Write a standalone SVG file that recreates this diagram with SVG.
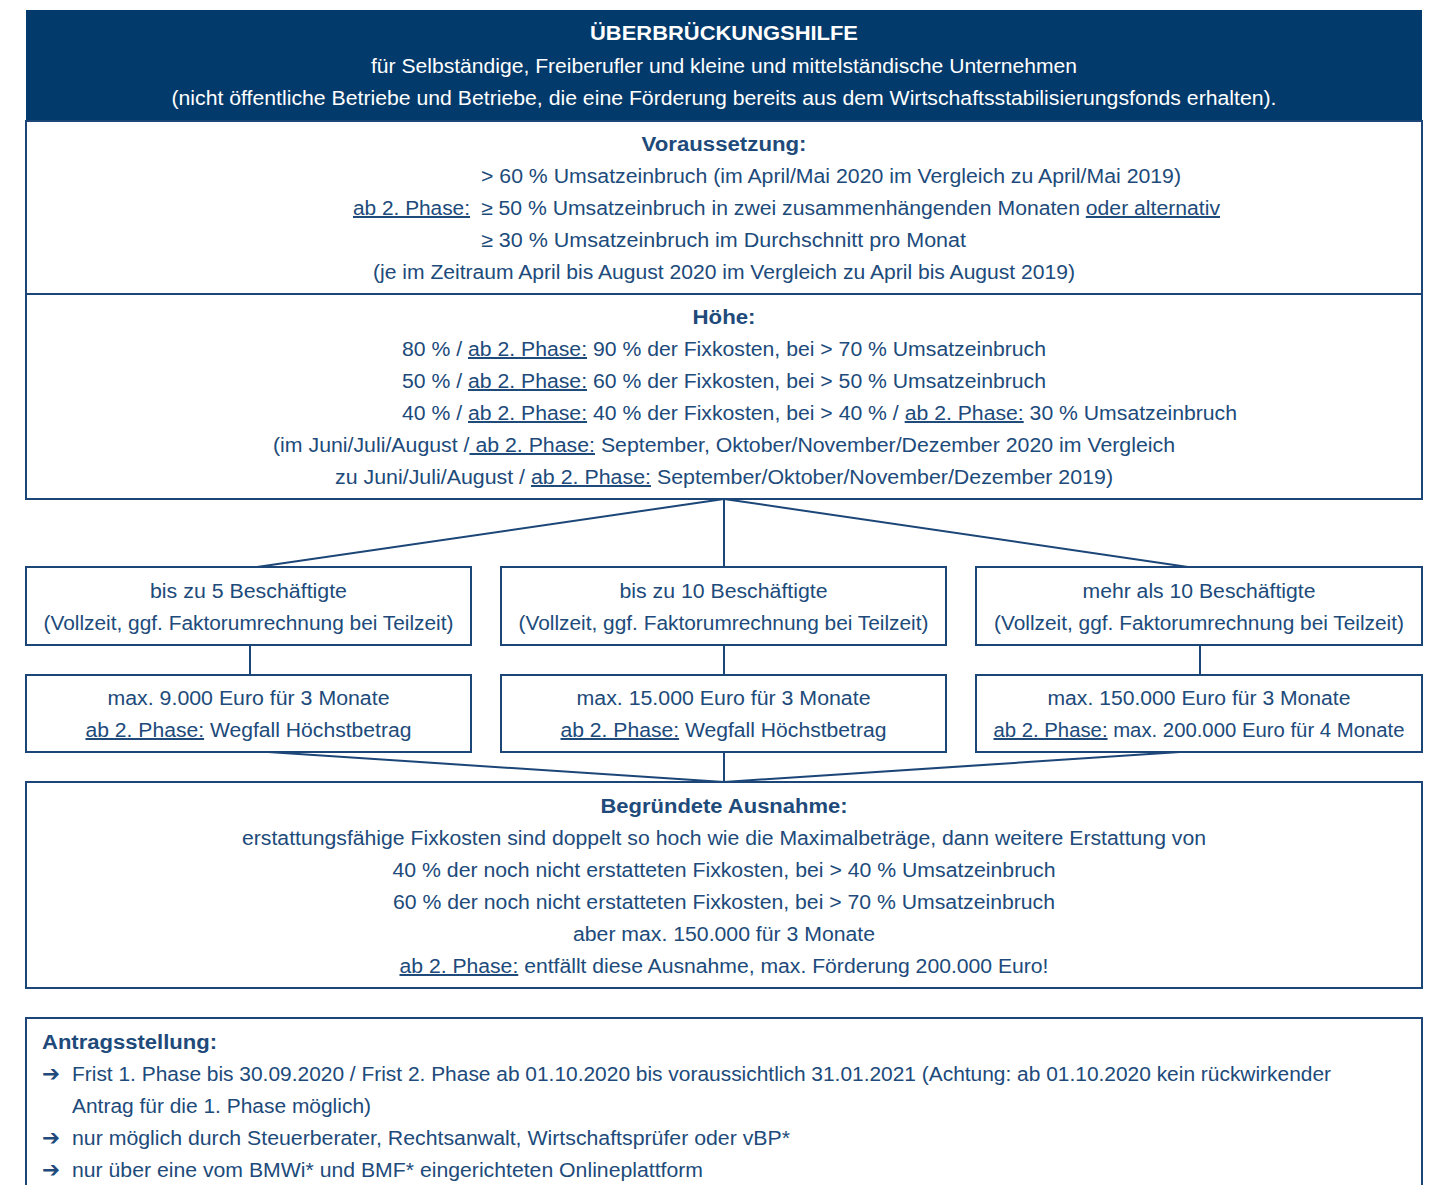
<svg xmlns="http://www.w3.org/2000/svg" width="1430" height="1185" viewBox="0 0 1430 1185">
<style>
text{font-family:"Liberation Sans",Arial,sans-serif;font-size:20px;fill:#204a7a;}
.b{font-weight:bold;}
.w{fill:#ffffff;}
.c{text-anchor:middle;}
.u{text-decoration:underline;}
.box{fill:#ffffff;stroke:#1b4677;stroke-width:2;}
.ln{stroke:#1b4677;stroke-width:2;fill:none;}
.ar{font-family:"DejaVu Sans",sans-serif;font-size:22px;}
</style>
<rect width="1430" height="1185" fill="#ffffff"/>

<g id="header">
<rect x="26" y="10" width="1396" height="111" fill="#033a6c"/>
<text class="b w c" x="724" y="40" textLength="268" lengthAdjust="spacingAndGlyphs">ÜBERBRÜCKUNGSHILFE</text>
<text class="w c" x="724" y="73" textLength="706" lengthAdjust="spacingAndGlyphs">für Selbständige, Freiberufler und kleine und mittelständische Unternehmen</text>
<text class="w c" x="724" y="105" textLength="1105" lengthAdjust="spacingAndGlyphs">(nicht öffentliche Betriebe und Betriebe, die eine  Förderung bereits aus dem Wirtschaftsstabilisierungsfonds erhalten).</text>
</g>

<g id="voraussetzung">
<rect class="box" x="26" y="121" width="1396" height="173"/>
<text class="b c" x="724" y="151" textLength="165" lengthAdjust="spacingAndGlyphs">Voraussetzung:</text>
<text x="481" y="183" textLength="700" lengthAdjust="spacingAndGlyphs">&gt; 60 % Umsatzeinbruch (im April/Mai 2020 im Vergleich zu April/Mai 2019)</text>
<text class="u" x="353" y="215" textLength="117" lengthAdjust="spacingAndGlyphs">ab 2. Phase:</text>
<text x="481" y="215" textLength="739" lengthAdjust="spacingAndGlyphs">≥ 50 % Umsatzeinbruch in zwei zusammenhängenden Monaten <tspan class="u">oder alternativ</tspan></text>
<text x="481" y="247" textLength="485" lengthAdjust="spacingAndGlyphs">≥ 30 % Umsatzeinbruch im Durchschnitt pro Monat</text>
<text class="c" x="724" y="279" textLength="702" lengthAdjust="spacingAndGlyphs">(je im Zeitraum April bis August 2020 im Vergleich zu April bis August 2019)</text>
</g>

<g id="hoehe">
<rect class="box" x="26" y="294" width="1396" height="205"/>
<text class="b c" x="724" y="324" textLength="63" lengthAdjust="spacingAndGlyphs">Höhe:</text>
<text x="402" y="356" textLength="644" lengthAdjust="spacingAndGlyphs">80 % / <tspan class="u">ab 2. Phase:</tspan> 90 % der Fixkosten, bei &gt; 70 % Umsatzeinbruch</text>
<text x="402" y="388" textLength="644" lengthAdjust="spacingAndGlyphs">50 % / <tspan class="u">ab 2. Phase:</tspan> 60 % der Fixkosten, bei &gt; 50 % Umsatzeinbruch</text>
<text x="402" y="420" textLength="835" lengthAdjust="spacingAndGlyphs">40 % / <tspan class="u">ab 2. Phase:</tspan> 40 % der Fixkosten, bei &gt; 40 % / <tspan class="u">ab 2. Phase:</tspan> 30 % Umsatzeinbruch</text>
<text x="273" y="452" textLength="902" lengthAdjust="spacingAndGlyphs">(im Juni/Juli/August /<tspan class="u"> ab 2. Phase:</tspan> September, Oktober/November/Dezember 2020 im Vergleich</text>
<text x="335" y="484" textLength="778" lengthAdjust="spacingAndGlyphs">zu Juni/Juli/August / <tspan class="u">ab 2. Phase:</tspan> September/Oktober/November/Dezember 2019)</text>
</g>

<g id="connectors">
<line class="ln" x1="724" y1="499" x2="257" y2="567"/>
<line class="ln" x1="724" y1="499" x2="724" y2="567"/>
<line class="ln" x1="724" y1="499" x2="1188" y2="567"/>
<line class="ln" x1="250" y1="645" x2="250" y2="675"/>
<line class="ln" x1="724" y1="645" x2="724" y2="675"/>
<line class="ln" x1="1200" y1="645" x2="1200" y2="675"/>
<line class="ln" x1="268" y1="752" x2="724" y2="782"/>
<line class="ln" x1="724" y1="752" x2="724" y2="782"/>
<line class="ln" x1="1180" y1="752" x2="724" y2="782"/>
</g>

<g id="emp5">
<rect class="box" x="26" y="567" width="445" height="78"/>
<text class="c" x="248.5" y="598" textLength="197" lengthAdjust="spacingAndGlyphs">bis zu 5 Beschäftigte</text>
<text class="c" x="248.5" y="630" textLength="410" lengthAdjust="spacingAndGlyphs">(Vollzeit, ggf. Faktorumrechnung bei Teilzeit)</text>
</g>
<g id="emp10">
<rect class="box" x="501" y="567" width="445" height="78"/>
<text class="c" x="723.5" y="598" textLength="208" lengthAdjust="spacingAndGlyphs">bis zu 10 Beschäftigte</text>
<text class="c" x="723.5" y="630" textLength="410" lengthAdjust="spacingAndGlyphs">(Vollzeit, ggf. Faktorumrechnung bei Teilzeit)</text>
</g>
<g id="emp10plus">
<rect class="box" x="976" y="567" width="446" height="78"/>
<text class="c" x="1199" y="598" textLength="233" lengthAdjust="spacingAndGlyphs">mehr als 10 Beschäftigte</text>
<text class="c" x="1199" y="630" textLength="410" lengthAdjust="spacingAndGlyphs">(Vollzeit, ggf. Faktorumrechnung bei Teilzeit)</text>
</g>

<g id="max5">
<rect class="box" x="26" y="675" width="445" height="77"/>
<text class="c" x="248.5" y="705" textLength="282" lengthAdjust="spacingAndGlyphs">max. 9.000 Euro für 3 Monate</text>
<text class="c" x="248.5" y="737" textLength="326" lengthAdjust="spacingAndGlyphs"><tspan class="u">ab 2. Phase:</tspan> Wegfall Höchstbetrag</text>
</g>
<g id="max10">
<rect class="box" x="501" y="675" width="445" height="77"/>
<text class="c" x="723.5" y="705" textLength="294" lengthAdjust="spacingAndGlyphs">max. 15.000 Euro für 3 Monate</text>
<text class="c" x="723.5" y="737" textLength="326" lengthAdjust="spacingAndGlyphs"><tspan class="u">ab 2. Phase:</tspan> Wegfall Höchstbetrag</text>
</g>
<g id="max10plus">
<rect class="box" x="976" y="675" width="446" height="77"/>
<text class="c" x="1199" y="705" textLength="303" lengthAdjust="spacingAndGlyphs">max. 150.000 Euro für 3 Monate</text>
<text class="c" x="1199" y="737" textLength="411" lengthAdjust="spacingAndGlyphs"><tspan class="u">ab 2. Phase:</tspan> max. 200.000 Euro für 4 Monate</text>
</g>

<g id="ausnahme">
<rect class="box" x="26" y="782" width="1396" height="206"/>
<text class="b c" x="724" y="813" textLength="247" lengthAdjust="spacingAndGlyphs">Begründete Ausnahme:</text>
<text class="c" x="724" y="845" textLength="964" lengthAdjust="spacingAndGlyphs">erstattungsfähige Fixkosten sind doppelt so hoch wie die Maximalbeträge, dann weitere Erstattung von</text>
<text class="c" x="724" y="877" textLength="663" lengthAdjust="spacingAndGlyphs">40 % der noch nicht erstatteten Fixkosten, bei &gt; 40 % Umsatzeinbruch</text>
<text class="c" x="724" y="909" textLength="662" lengthAdjust="spacingAndGlyphs">60 % der noch nicht erstatteten Fixkosten, bei &gt; 70 % Umsatzeinbruch</text>
<text class="c" x="724" y="941" textLength="302" lengthAdjust="spacingAndGlyphs">aber max. 150.000 für 3 Monate</text>
<text class="c" x="724" y="973" textLength="649" lengthAdjust="spacingAndGlyphs"><tspan class="u">ab 2. Phase:</tspan> entfällt diese Ausnahme, max. Förderung 200.000 Euro!</text>
</g>

<g id="antrag">
<path class="ln" d="M26,1186 V1018 H1422 V1186" fill="#ffffff"/>
<text class="b" x="42" y="1049" textLength="175" lengthAdjust="spacingAndGlyphs">Antragsstellung:</text>
<text class="ar" x="42" y="1081" textLength="18" lengthAdjust="spacingAndGlyphs">➔</text>
<text x="72" y="1081" textLength="1259" lengthAdjust="spacingAndGlyphs">Frist 1. Phase bis 30.09.2020 / Frist 2. Phase ab 01.10.2020 bis voraussichtlich 31.01.2021 (Achtung: ab 01.10.2020 kein rückwirkender</text>
<text x="72" y="1113" textLength="299" lengthAdjust="spacingAndGlyphs">Antrag für die 1. Phase möglich)</text>
<text class="ar" x="42" y="1145" textLength="18" lengthAdjust="spacingAndGlyphs">➔</text>
<text x="72" y="1145" textLength="718" lengthAdjust="spacingAndGlyphs">nur möglich durch Steuerberater, Rechtsanwalt, Wirtschaftsprüfer oder vBP*</text>
<text class="ar" x="42" y="1177" textLength="18" lengthAdjust="spacingAndGlyphs">➔</text>
<text x="72" y="1177" textLength="631" lengthAdjust="spacingAndGlyphs">nur über eine vom BMWi* und BMF* eingerichteten Onlineplattform</text>
</g>
</svg>
